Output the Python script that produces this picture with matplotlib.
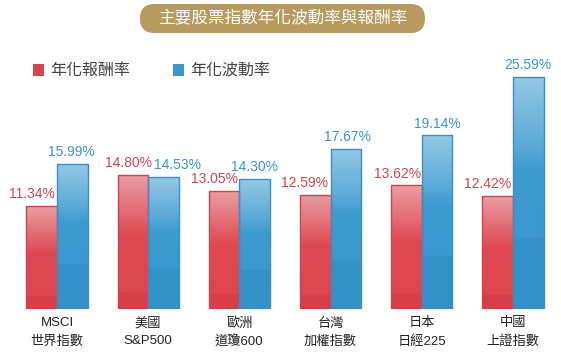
import matplotlib
matplotlib.use("Agg")
import matplotlib.pyplot as plt
import numpy as np
from matplotlib.patches import FancyBboxPatch, Rectangle
from matplotlib.colors import LinearSegmentedColormap

plt.rcParams['font.family'] = ['Liberation Sans', 'Noto Sans CJK TC', 'DejaVu Sans']

title = "主要股票指數年化波動率與報酬率"
categories_line1 = ["MSCI", "美國", "歐洲", "台灣", "日本", "中國"]
categories_line2 = ["世界指數", "S&P500", "道瓊600", "加權指數", "日經225", "上證指數"]
returns = [11.34, 14.80, 13.05, 12.59, 13.62, 12.42]
volatility = [15.99, 14.53, 14.30, 17.67, 19.14, 25.59]
series_names = ["年化報酬率", "年化波動率"]

# label horizontal nudges (pixels) to mimic reference placement
red_dx = [-10, -4, -10, -11, -9, -10]
blue_dx = [-1, 14, 0, 2, 0, 0]

W, H = 561, 357
fig = plt.figure(figsize=(W / 100, H / 100), dpi=100)
fig.patch.set_facecolor("white")

base_px = 309       # baseline from top
scale = 9.07        # px per percent
ymax = 28
ax_h = ymax * scale
ax = fig.add_axes([0, (H - base_px) / H, 1, ax_h / H])
x0 = -57 / 91.2
x1 = (W - 57) / 91.2
ax.set_xlim(x0, x1)
ax.set_ylim(0, ymax)
ax.axis("off")

bw = 0.335
x = np.arange(len(returns))

red_cmap = LinearSegmentedColormap.from_list(
    "r", [(0, "#d63f48"), (0.12, "#d63f48"), (0.13, "#dc464f"), (0.55, "#de4a53"), (0.62, "#e0575f"), (1.0, "#eb9ea4")])
blue_cmap = LinearSegmentedColormap.from_list(
    "b", [(0, "#3592c8"), (0.3, "#3693c9"), (0.31, "#3b99cf"), (0.6, "#3d9bd0"), (0.7, "#5aaad7"), (1.0, "#95c8e6")])

grad = np.linspace(0, 1, 256).reshape(-1, 1)

def draw_bars(xs, vals, cmap, edge):
    bars = ax.bar(xs, vals, width=bw, color="none", edgecolor=edge, linewidth=1.0, zorder=3)
    for b in bars:
        bx, by = b.get_x(), b.get_y()
        bwid, bh = b.get_width(), b.get_height()
        im = ax.imshow(grad, cmap=cmap, aspect="auto", origin="lower",
                       extent=[bx, bx + bwid, by, by + bh], zorder=2, interpolation="bilinear")
        im.set_clip_path(b)
    return bars

draw_bars(x - bw / 2, returns, red_cmap, "#cf434c")
draw_bars(x + bw / 2, volatility, blue_cmap, "#3a90c5")
ax.set_xlim(x0, x1)
ax.set_ylim(0, ymax)

for i in range(len(x)):
    ax.annotate(f"{returns[i]:.2f}%", (x[i] - bw / 2, returns[i]), xytext=(red_dx[i] * 0.72, 3.5),
                textcoords="offset points", ha="center", va="bottom",
                fontsize=10, color="#cc4650")
    ax.annotate(f"{volatility[i]:.2f}%", (x[i] + bw / 2, volatility[i]), xytext=(blue_dx[i] * 0.72, 3.5),
                textcoords="offset points", ha="center", va="bottom",
                fontsize=10, color="#3b95c9")
    ax.annotate(categories_line1[i], (x[i], 0), xytext=(0, -6), textcoords="offset points",
                ha="center", va="top", fontsize=9.5, color="#222222", annotation_clip=False)
    ax.annotate(categories_line2[i], (x[i], 0), xytext=(0, -19), textcoords="offset points",
                ha="center", va="top", fontsize=9.5, color="#222222", annotation_clip=False)

# Overlay axes in pixel coordinates for title pill and legend
ov = fig.add_axes([0, 0, 1, 1], zorder=5)
ov.set_xlim(0, W)
ov.set_ylim(H, 0)
ov.axis("off")
ov.patch.set_alpha(0)

pill = FancyBboxPatch((140, 4), 285, 29, boxstyle="round,pad=0,rounding_size=14.5",
                      facecolor="#b8995e", edgecolor="none")
ov.add_patch(pill)
ov.text(283, 18.5, title, ha="center", va="center", fontsize=12, color="white")

# Legend
ov.add_patch(Rectangle((33, 64), 11, 12, facecolor="#d9434c", edgecolor="none"))
ov.text(50, 70, series_names[0], ha="left", va="center", fontsize=11.5, color="#444444")
ov.add_patch(Rectangle((173, 64), 11, 12, facecolor="#3a97cc", edgecolor="none"))
ov.text(190, 70, series_names[1], ha="left", va="center", fontsize=11.5, color="#444444")

fig.savefig("out.png", dpi=100, facecolor="white")
